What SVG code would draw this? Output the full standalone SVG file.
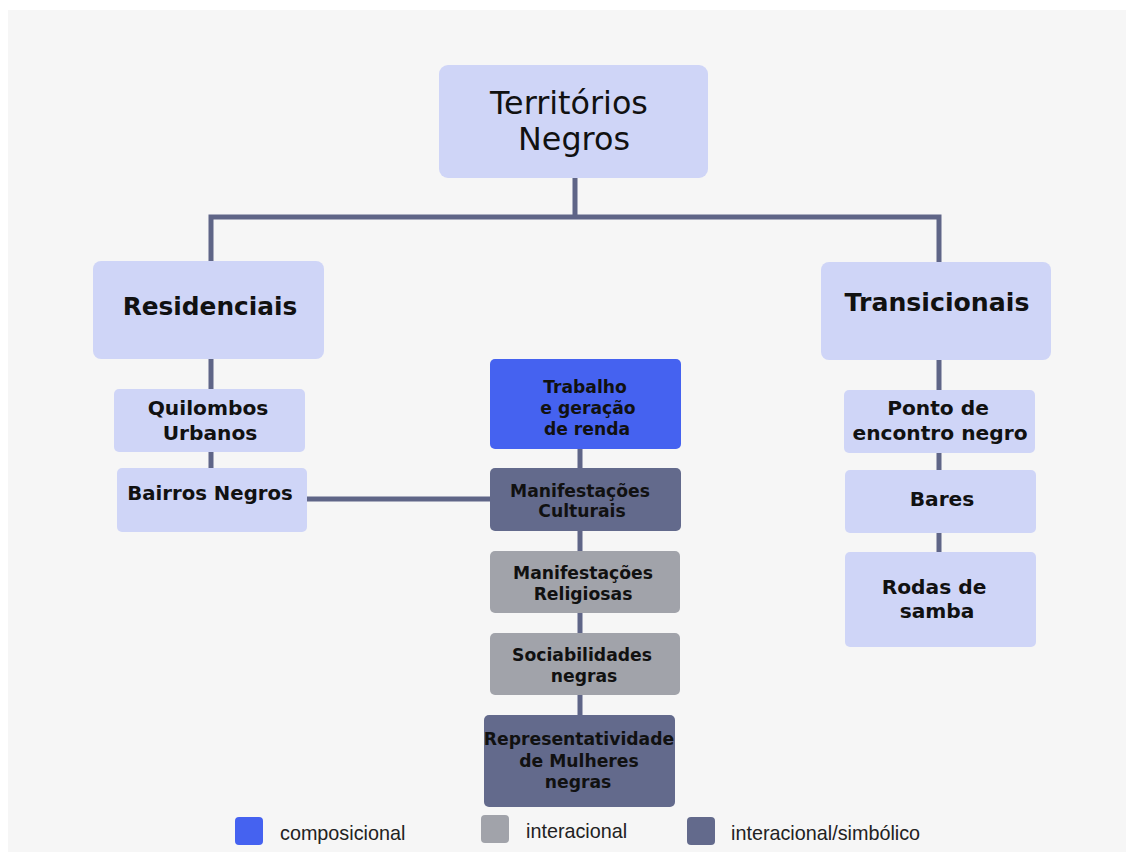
<svg xmlns="http://www.w3.org/2000/svg" width="1126" height="852" viewBox="0 0 1126 852">
<style>
.bg{fill:#f6f6f6}
.light{fill:#cfd5f7}
.blue{fill:#4562f0}
.dark{fill:#636a8c}
.gray{fill:#a1a3aa}
.conn{stroke:#5f6587;stroke-width:5;fill:none}
text{font-family:"DejaVu Sans","Noto Sans",sans-serif;fill:#111;text-anchor:middle}
.b{font-weight:bold}
.c{font-weight:bold;font-size:17.2px}
.leg{font-family:"Liberation Sans",Arial,sans-serif;font-size:19.8px;fill:#222;text-anchor:start}
</style>
<rect width="1126" height="852" fill="#ffffff"/>
<rect class="bg" x="8" y="10" width="1118" height="842"/>
<g id="connectors">
<path class="conn" d="M575 178V217M211 261V217H939V262"/>
<path class="conn" d="M211 359V389M211 452V468"/>
<path class="conn" d="M307 499H490"/>
<path class="conn" d="M939 360V390M939 453V470M939 533V552"/>
<path class="conn" d="M580 449V468M580 531V551M580 613V633M580 695V715"/>
</g>
<g id="territorios">
<rect class="light" x="439" y="65" width="269" height="113" rx="9"/>
<text x="569" y="114" font-size="31.8">Territórios</text>
<text x="574" y="150" font-size="31.8">Negros</text>
</g>
<g id="residenciais">
<rect class="light" x="93" y="261" width="231" height="98" rx="8"/>
<text class="b" x="210" y="315" font-size="24.8">Residenciais</text>
</g>
<g id="quilombos">
<rect class="light" x="114" y="389" width="191" height="63" rx="5"/>
<text class="b" x="208" y="415" font-size="20.2">Quilombos</text>
<text class="b" x="210" y="440" font-size="20.2">Urbanos</text>
</g>
<g id="bairros">
<rect class="light" x="117" y="468" width="190" height="64" rx="5"/>
<text class="b" x="210" y="500" font-size="19.7">Bairros Negros</text>
</g>
<g id="transicionais">
<rect class="light" x="821" y="262" width="230" height="98" rx="8"/>
<text class="b" x="937" y="311" font-size="25.2">Transicionais</text>
</g>
<g id="ponto">
<rect class="light" x="844" y="390" width="191" height="63" rx="5"/>
<text class="b" x="938" y="415" font-size="20.2">Ponto de</text>
<text class="b" x="940" y="440" font-size="20.2">encontro negro</text>
</g>
<g id="bares">
<rect class="light" x="845" y="470" width="191" height="63" rx="5"/>
<text class="b" x="942" y="506" font-size="20.2">Bares</text>
</g>
<g id="rodas">
<rect class="light" x="845" y="552" width="191" height="95" rx="5"/>
<text class="b" x="934" y="594" font-size="20.2">Rodas de</text>
<text class="b" x="937" y="618" font-size="20.2">samba</text>
</g>
<g id="trabalho">
<rect class="blue" x="490" y="359" width="191" height="90" rx="5"/>
<text class="c" x="585" y="393">Trabalho</text>
<text class="c" x="588" y="414">e geração</text>
<text class="c" x="587" y="435">de renda</text>
</g>
<g id="culturais">
<rect class="dark" x="490" y="468" width="191" height="63" rx="5"/>
<text class="c" x="580" y="497">Manifestações</text>
<text class="c" x="582" y="517">Culturais</text>
</g>
<g id="religiosas">
<rect class="gray" x="490" y="551" width="190" height="62" rx="5"/>
<text class="c" x="583" y="579">Manifestações</text>
<text class="c" x="583" y="600">Religiosas</text>
</g>
<g id="sociabilidades">
<rect class="gray" x="490" y="633" width="190" height="62" rx="5"/>
<text class="c" x="582" y="661">Sociabilidades</text>
<text class="c" x="584" y="682">negras</text>
</g>
<g id="representatividade">
<rect class="dark" x="484" y="715" width="191" height="92" rx="5"/>
<text class="c" x="579" y="745">Representatividade</text>
<text class="c" x="579" y="767">de Mulheres</text>
<text class="c" x="578" y="788">negras</text>
</g>
<g id="legend">
<rect class="blue" x="235" y="817" width="28" height="28" rx="4"/>
<text class="leg" x="280" y="840">composicional</text>
<rect class="gray" x="481" y="815" width="28" height="28" rx="4"/>
<text class="leg" x="526" y="838">interacional</text>
<rect class="dark" x="687" y="817" width="28" height="28" rx="4"/>
<text class="leg" x="731" y="840">interacional/simbólico</text>
</g>
</svg>
